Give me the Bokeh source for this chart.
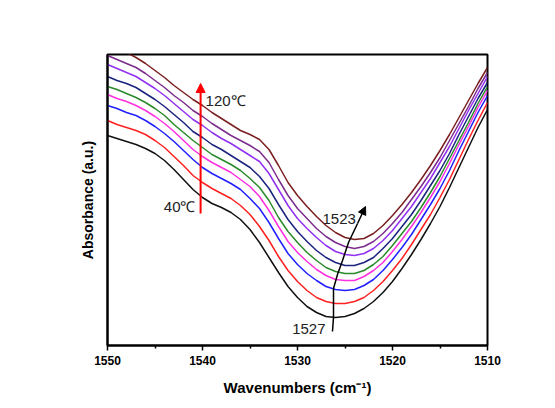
from bokeh.plotting import figure
from bokeh.models import Range1d, FixedTicker, Arrow, NormalHead, Label
from bokeh.embed import file_html
from bokeh.resources import INLINE

# Wavenumber grid (cm^-1), 1550 -> 1510
wavenumbers = [1550, 1549, 1548, 1547, 1546, 1545, 1544, 1543, 1542, 1541,
               1540, 1539, 1538, 1537, 1536, 1535, 1534, 1533, 1532, 1531,
               1530, 1529, 1528, 1527, 1526, 1525, 1524, 1523, 1522, 1521,
               1520, 1519, 1518, 1517, 1516, 1515, 1514, 1513, 1512, 1511, 1510]

# Absorbance (a.u., stacked)
abs_40C = [210, 207, 204, 201, 197, 192, 185, 176, 166, 156, 148, 142, 138, 133, 126, 116, 103, 88, 73, 59,
           48, 39, 33, 29, 28, 29, 32, 37, 44, 53, 64, 77, 91, 106, 122, 139, 158, 178, 198, 218, 236]
abs_50C = [225, 221, 218, 215, 211, 205, 198, 189, 180, 170, 163, 157, 152, 147, 140, 131, 119, 105, 89, 75,
           64, 55, 48, 44, 42, 42, 44, 48, 55, 64, 75, 87, 101, 116, 131, 148, 166, 186, 206, 225, 243]
abs_60C = [240, 237, 233, 230, 225, 219, 212, 204, 195, 186, 178, 172, 167, 162, 156, 147, 137, 123, 107, 92,
           81, 72, 65, 59, 56, 55, 56, 60, 66, 75, 86, 98, 111, 126, 141, 157, 175, 195, 214, 233, 250]
abs_70C = [251, 247, 244, 240, 235, 229, 222, 214, 205, 196, 189, 183, 178, 173, 166, 159, 149, 135, 119, 104,
           93, 84, 76, 70, 66, 65, 65, 69, 75, 83, 94, 106, 119, 133, 148, 164, 182, 201, 219, 238, 255]
abs_80C = [259, 256, 252, 248, 243, 237, 230, 221, 213, 205, 198, 191, 186, 181, 175, 167, 158, 145, 128, 114,
           103, 93, 85, 78, 74, 72, 72, 75, 81, 89, 100, 112, 124, 138, 153, 169, 187, 205, 223, 242, 259]
abs_90C = [269, 265, 262, 258, 252, 246, 239, 231, 223, 214, 208, 201, 196, 190, 184, 178, 169, 157, 141, 126,
           114, 104, 95, 88, 83, 80, 80, 83, 88, 97, 107, 119, 131, 145, 160, 175, 192, 211, 229, 247, 263]
abs_100C = [281, 277, 273, 269, 263, 257, 250, 242, 234, 226, 220, 213, 207, 202, 196, 190, 184, 172, 156, 140,
            127, 117, 108, 100, 94, 91, 90, 92, 97, 105, 115, 127, 139, 153, 167, 183, 199, 217, 235, 252, 269]
abs_110C = [290, 286, 282, 278, 272, 265, 258, 250, 243, 235, 229, 222, 216, 210, 205, 200, 194, 183, 166, 150,
            137, 127, 117, 109, 103, 99, 97, 99, 104, 112, 122, 133, 146, 159, 173, 188, 205, 222, 239, 257, 273]
abs_120C = [301, 297, 293, 288, 282, 275, 268, 260, 253, 246, 240, 233, 227, 221, 215, 211, 206, 196, 180, 163,
            150, 139, 129, 120, 113, 108, 106, 107, 112, 120, 130, 141, 153, 166, 180, 195, 211, 228, 245, 262, 278]

series = [abs_40C, abs_50C, abs_60C, abs_70C, abs_80C, abs_90C, abs_100C, abs_110C, abs_120C]
colors = ["#111111", "#FF2020", "#2020FF", "#FF30E0", "#2A8A2A", "#1A237E", "#9130F0", "#7B2C8C", "#7A1F1F"]

x_ticks = [1550, 1540, 1530, 1520, 1510]
x_minor = [1545, 1535, 1525, 1515]

# annotations
temp_arrow_x = 1540.2
temp_arrow_y = [132, 262]
shift_path_x = [1526.32, 1526.21, 1526.21, 1525.79, 1525.26, 1524.63, 1523.68]
shift_path_y = [14, 28, 57, 71, 85, 103, 122]
shift_tip = (1522.84, 139)

FONT = "Liberation Sans"

p = figure(width=555, height=408, output_backend="svg", toolbar_location=None,
           x_range=Range1d(1550, 1510), y_range=Range1d(0, 291),
           min_border_left=107, min_border_right=68, min_border_top=54, min_border_bottom=63)
p.xgrid.visible = False
p.ygrid.visible = False
p.background_fill_color = "white"
p.border_fill_color = "white"
p.outline_line_color = "black"
p.outline_line_width = 2
p.outline_line_alpha = 1.0

for ys, c in zip(series, colors):
    p.line(wavenumbers, ys, line_color=c, line_width=1.5)

# x axis
xa = p.xaxis[0]
xa.ticker = FixedTicker(ticks=x_ticks, minor_ticks=x_minor)
xa.axis_line_width = 2
xa.axis_line_color = "black"
xa.major_tick_in = 0
xa.major_tick_out = 5
xa.minor_tick_in = 0
xa.minor_tick_out = 3
xa.major_tick_line_width = 1.5
xa.minor_tick_line_width = 1.5
xa.major_tick_line_color = "black"
xa.minor_tick_line_color = "black"
xa.major_label_text_font = FONT
xa.major_label_text_font_style = "bold"
xa.major_label_text_font_size = "12px"
xa.major_label_text_color = "black"
xa.major_label_standoff = 5
xa.axis_label = "Wavenumbers (cm\u207b\u00b9)"
xa.axis_label_text_font = FONT
xa.axis_label_text_font_style = "bold"
xa.axis_label_text_font_size = "15px"
xa.axis_label_text_color = "black"
xa.axis_label_standoff = 11

# y axis (no ticks)
ya = p.yaxis[0]
ya.ticker = FixedTicker(ticks=[])
ya.axis_line_width = 2
ya.axis_line_color = "black"
ya.major_tick_line_color = None
ya.minor_tick_line_color = None
ya.major_label_text_font_size = "0px"
ya.axis_label = "Absorbance (a.u.)"
ya.axis_label_text_font = FONT
ya.axis_label_text_font_style = "bold"
ya.axis_label_text_font_size = "14px"
ya.axis_label_text_color = "black"
ya.axis_label_standoff = 12

# red temperature arrow
p.add_layout(Arrow(end=NormalHead(size=9, fill_color="red", line_color="red"),
                   x_start=temp_arrow_x, y_start=temp_arrow_y[0],
                   x_end=temp_arrow_x, y_end=temp_arrow_y[1],
                   line_color="red", line_width=2))

# black peak-shift arrow
p.line(shift_path_x, shift_path_y, line_color="black", line_width=1.5)
p.add_layout(Arrow(end=NormalHead(size=8, fill_color="black", line_color="black"),
                   x_start=shift_path_x[-1], y_start=shift_path_y[-1],
                   x_end=shift_tip[0], y_end=shift_tip[1],
                   line_color="black", line_width=1.5))

labels = [("120\u2103", 1539.68, 245, "left"),
          ("40\u2103", 1540.74, 139, "right"),
          ("1523", 1527.37, 127, "left"),
          ("1527", 1527.05, 17, "right")]
for t, lx, ly, al in labels:
    p.add_layout(Label(x=lx, y=ly, text=t, text_font=FONT, text_font_size="15px",
                       text_align=al, text_baseline="middle", text_color="#222222"))

open("out.html", "w").write(file_html(p, INLINE))
